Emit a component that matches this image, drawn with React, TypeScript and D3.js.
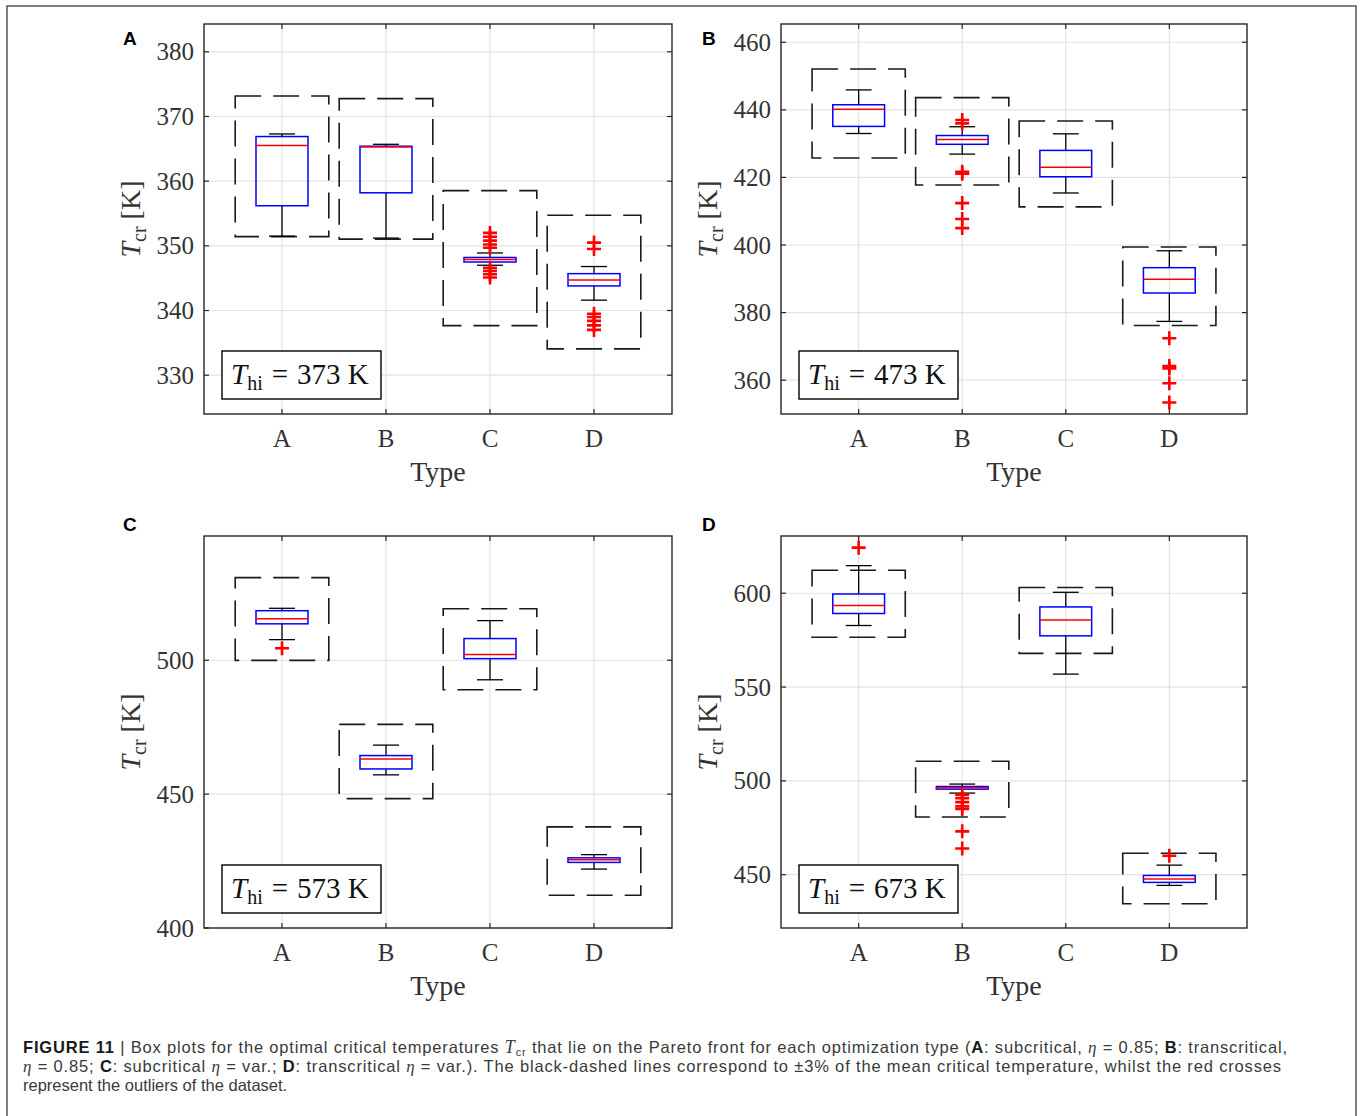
import * as d3 from "d3";

const types = ["A", "B", "C", "D"];

// box statistics: [lower whisker, q1, median, q3, upper whisker]
const boxesA = [
  [351.5, 356.2, 365.5, 366.9, 367.3],
  [351.2, 358.2, 365.3, 365.4, 365.7],
  [347.0, 347.5, 347.9, 348.2, 348.9],
  [341.6, 343.8, 344.7, 345.7, 346.8],
];
const meansA = [362.3, 361.9, 348.1, 344.4];
const outliersA = [
  [],
  [],
  [352.0, 351.4, 350.8, 350.2, 349.7, 346.6, 346.1, 345.6, 345.1],
  [350.5, 349.5, 339.5, 339.0, 338.4, 337.7, 337.0],
];

const boxesB = [
  [433.0, 435.1, 440.2, 441.5, 445.9],
  [426.9, 429.8, 431.2, 432.4, 435.0],
  [415.4, 420.2, 423.0, 428.0, 432.9],
  [377.4, 385.8, 389.9, 393.3, 398.3],
];
const meansB = [438.9, 430.7, 424.0, 387.8];
const outliersB = [
  [],
  [437.0, 436.0, 421.7, 421.1, 412.4, 407.7, 405.0],
  [],
  [372.4, 364.2, 363.5, 359.1, 353.4],
];

const boxesC = [
  [507.7, 513.6, 515.5, 518.5, 519.4],
  [457.2, 459.4, 463.1, 464.4, 468.3],
  [492.7, 500.6, 502.1, 508.1, 514.8],
  [422.0, 424.5, 425.5, 426.2, 427.4],
];
const meansC = [515.4, 462.2, 504.1, 425.0];
const outliersC = [[504.5], [], [], []];

const boxesD = [
  [582.8, 589.2, 593.4, 599.6, 614.7],
  [493.5, 495.6, 496.3, 497.0, 498.3],
  [556.9, 577.3, 585.8, 592.7, 600.5],
  [444.3, 445.9, 447.7, 449.6, 455.1],
];
const meansD = [594.4, 495.6, 585.5, 448.0];
const outliersD = [
  [624.3],
  [492.6, 490.8, 488.7, 486.4, 485.0, 473.1, 464.0],
  [],
  [460.1],
];

const ticksA = [330, 340, 350, 360, 370, 380];
const ticksB = [360, 380, 400, 420, 440, 460];
const ticksC = [400, 450, 500];
const ticksD = [450, 500, 550, 600];

const thiValues = [373, 473, 573, 673];

const serif = "'Liberation Serif', 'Times New Roman', serif";
const sans = "'Liberation Sans', Arial, Helvetica, sans-serif";
const axisColor = "#262626";

function Panel({ left, top, right, bottom, domain, ticks, boxes, means, outliers, letter, letterX, letterY, thi }) {
  const w = right - left;
  const h = bottom - top;
  const x = d3.scaleLinear().domain([0.25, 4.75]).range([0, w]);
  const y = d3.scaleLinear().domain(domain).range([h, 0]);
  const bw = x(1.25) - x(1);
  const cw = x(1.125) - x(1);
  const dw = x(1.45) - x(1);
  const tickLen = 5;
  return (
    <g>
      <text x={letterX} y={letterY} fontFamily={sans} fontWeight="bold" fontSize={19} fill="#000">
        {letter}
      </text>
      <g transform={`translate(${left},${top})`}>
        {/* grid */}
        {ticks.map((t) => (
          <line key={"gy" + t} x1={0} x2={w} y1={y(t)} y2={y(t)} stroke="#e3e3e3" strokeWidth={1.2} />
        ))}
        {types.map((t, i) => (
          <line key={"gx" + t} x1={x(i + 1)} x2={x(i + 1)} y1={0} y2={h} stroke="#e3e3e3" strokeWidth={1.2} />
        ))}
        {/* ticks */}
        {ticks.map((t) => (
          <g key={"ty" + t}>
            <line x1={0} x2={tickLen} y1={y(t)} y2={y(t)} stroke={axisColor} strokeWidth={1.2} />
            <line x1={w - tickLen} x2={w} y1={y(t)} y2={y(t)} stroke={axisColor} strokeWidth={1.2} />
            <text x={-10} y={y(t)} dy="0.34em" textAnchor="end" fontFamily={serif} fontSize={25} fill="#333">
              {t}
            </text>
          </g>
        ))}
        {types.map((t, i) => (
          <g key={"tx" + t}>
            <line x1={x(i + 1)} x2={x(i + 1)} y1={h} y2={h - tickLen} stroke={axisColor} strokeWidth={1.2} />
            <line x1={x(i + 1)} x2={x(i + 1)} y1={0} y2={tickLen} stroke={axisColor} strokeWidth={1.2} />
            <text x={x(i + 1)} y={h + 33} textAnchor="middle" fontFamily={serif} fontSize={25} fill="#333">
              {t}
            </text>
          </g>
        ))}
        {/* dashed +-3% boxes */}
        {means.map((m, i) => {
          const cx = x(i + 1);
          const y1 = y(m * 1.03);
          const y2 = y(m * 0.97);
          return (
            <rect
              key={"d" + i}
              x={cx - dw}
              y={y1}
              width={2 * dw}
              height={y2 - y1}
              fill="none"
              stroke="#1a1a1a"
              strokeWidth={1.6}
              strokeDasharray="26,12"
            />
          );
        })}
        {/* boxes */}
        {boxes.map((b, i) => {
          const cx = x(i + 1);
          const [lo, q1, med, q3, hi] = b;
          return (
            <g key={"b" + i}>
              <line x1={cx} x2={cx} y1={y(q3)} y2={y(hi)} stroke="#000" strokeWidth={1.3} />
              <line x1={cx} x2={cx} y1={y(q1)} y2={y(lo)} stroke="#000" strokeWidth={1.3} />
              <line x1={cx - cw} x2={cx + cw} y1={y(hi)} y2={y(hi)} stroke="#000" strokeWidth={1.3} />
              <line x1={cx - cw} x2={cx + cw} y1={y(lo)} y2={y(lo)} stroke="#000" strokeWidth={1.3} />
              <rect x={cx - bw} y={y(q3)} width={2 * bw} height={y(q1) - y(q3)} fill="none" stroke="#0000ff" strokeWidth={1.5} />
              <line x1={cx - bw} x2={cx + bw} y1={y(med)} y2={y(med)} stroke="#ff0000" strokeWidth={1.5} />
            </g>
          );
        })}
        {/* outliers */}
        {outliers.map((os, i) =>
          os.map((o, j) => {
            const cx = x(i + 1);
            const cy = y(o);
            return (
              <path
                key={"o" + i + "-" + j}
                d={`M${cx - 7},${cy}H${cx + 7}M${cx},${cy - 7}V${cy + 7}`}
                stroke="#ff0000"
                strokeWidth={2.6}
                fill="none"
              />
            );
          })
        )}
        {/* axes frame */}
        <rect x={0} y={0} width={w} height={h} fill="none" stroke={axisColor} strokeWidth={1.4} />
        {/* T_hi label */}
        <rect x={18} y={h - 63} width={159} height={48} fill="#fff" stroke="#000" strokeWidth={1.4} />
        <text x={27} y={h - 30} fontFamily={serif} fontSize={29} fill="#111">
          <tspan fontStyle="italic">T</tspan>
          <tspan fontSize={20} dy={6}>hi</tspan>
          <tspan dy={-6} dx={9}>=</tspan>
          <tspan dx={9}>{`${thi} K`}</tspan>
        </text>
        {/* axis labels */}
        <text x={w / 2} y={h + 67} textAnchor="middle" fontFamily={serif} fontSize={28} fill="#333">
          Type
        </text>
        <text transform={`translate(${-64},${h / 2}) rotate(-90)`} textAnchor="middle" fontFamily={serif} fontSize={28} fill="#333">
          <tspan fontStyle="italic">T</tspan>
          <tspan fontSize={20} dy={6}>cr</tspan>
          <tspan dy={-6}> [K]</tspan>
        </text>
      </g>
    </g>
  );
}

function Eta() {
  return (
    <tspan fontFamily={serif} fontStyle="italic" fontSize={17}>
      η
    </tspan>
  );
}

export default function App() {
  return (
    <svg width={1360} height={1116} style={{ position: "absolute", left: 0, top: 0, background: "#fff" }}>
      <rect x={0} y={0} width={1360} height={1116} fill="#fff" />
      <rect x={7} y={6} width={1349} height={1130} fill="none" stroke="#555" strokeWidth={1.5} />
      <Panel left={204} top={24} right={672} bottom={414} domain={[324, 384.3]} ticks={ticksA} boxes={boxesA} means={meansA} outliers={outliersA} letter="A" letterX={123} letterY={45} thi={thiValues[0]} />
      <Panel left={781} top={24} right={1247} bottom={414} domain={[350, 465.4]} ticks={ticksB} boxes={boxesB} means={meansB} outliers={outliersB} letter="B" letterX={702} letterY={45} thi={thiValues[1]} />
      <Panel left={204} top={536} right={672} bottom={928} domain={[400, 546.4]} ticks={ticksC} boxes={boxesC} means={meansC} outliers={outliersC} letter="C" letterX={123} letterY={531} thi={thiValues[2]} />
      <Panel left={781} top={536} right={1247} bottom={928} domain={[421.6, 630.5]} ticks={ticksD} boxes={boxesD} means={meansD} outliers={outliersD} letter="D" letterX={702} letterY={531} thi={thiValues[3]} />
      <g fontFamily={sans} fontSize={16.5} fill="#3a3a3a">
        <text x={23} y={1053} textLength={1264} lengthAdjust="spacing">
          <tspan fontWeight="bold" fill="#1a1a1a">FIGURE 11</tspan>
          <tspan> | Box plots for the optimal critical temperatures </tspan>
          <tspan fontFamily={serif} fontStyle="italic" fontSize={18}>T</tspan>
          <tspan fontSize={11} dy={3}>cr</tspan>
          <tspan dy={-3}> that lie on the Pareto front for each optimization type (</tspan>
          <tspan fontWeight="bold" fill="#1a1a1a">A</tspan>
          <tspan>: subcritical, </tspan>
          <Eta />
          <tspan> = 0.85; </tspan>
          <tspan fontWeight="bold" fill="#1a1a1a">B</tspan>
          <tspan>: transcritical,</tspan>
        </text>
        <text x={23} y={1072} textLength={1258} lengthAdjust="spacing">
          <Eta />
          <tspan> = 0.85; </tspan>
          <tspan fontWeight="bold" fill="#1a1a1a">C</tspan>
          <tspan>: subcritical </tspan>
          <Eta />
          <tspan> = var.; </tspan>
          <tspan fontWeight="bold" fill="#1a1a1a">D</tspan>
          <tspan>: transcritical </tspan>
          <Eta />
          <tspan> = var.). The black-dashed lines correspond to ±3% of the mean critical temperature, whilst the red crosses</tspan>
        </text>
        <text x={23} y={1091}>represent the outliers of the dataset.</text>
      </g>
    </svg>
  );
}
